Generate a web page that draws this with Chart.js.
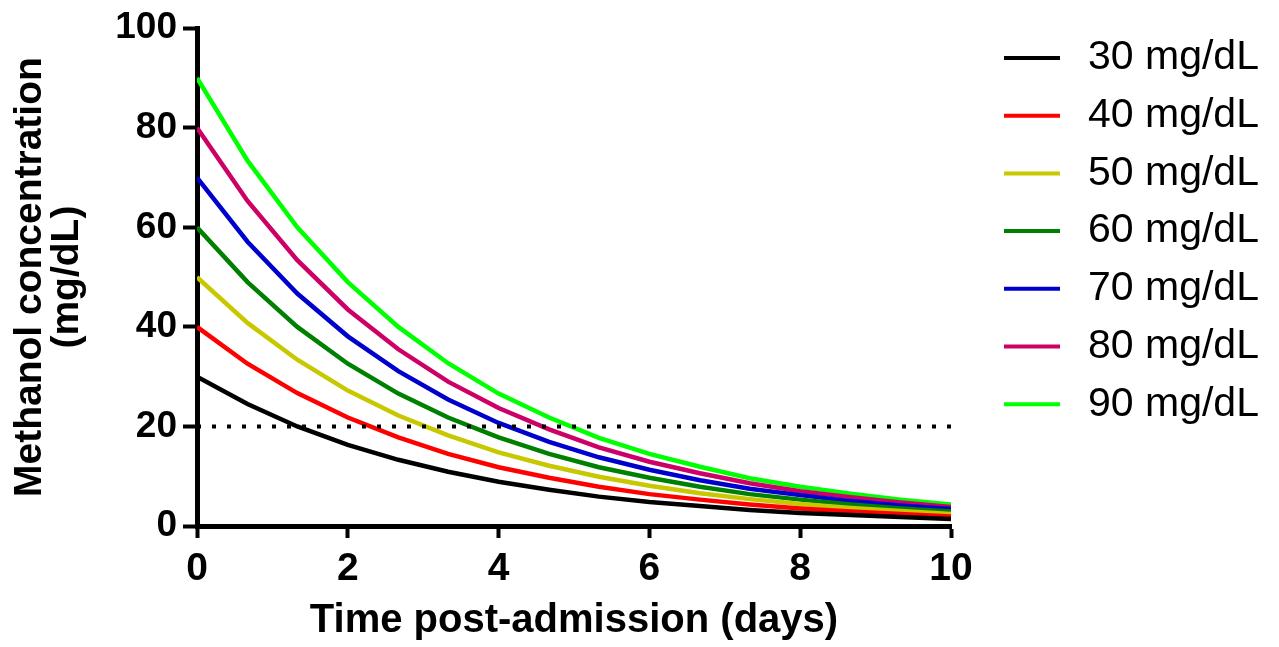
<!DOCTYPE html>
<html>
<head>
<meta charset="utf-8">
<script src="https://cdn.jsdelivr.net/npm/chart.js"></script>
<style>
    html, body { margin: 0; padding: 0; background: #fff; }
    canvas { display: block; }
</style>
</head>
<body>
<canvas id="decayChart" width="1279" height="647"></canvas>
<script>
// Time points (days post-admission)
const times = [0, 0.67, 1.33, 2, 2.67, 3.33, 4, 4.67, 5.33, 6, 6.67, 7.33, 8, 8.67, 9.33, 10];

// Methanol concentration (mg/dL)
const conc30 = [30, 24.5, 20.0, 16.3, 13.3, 10.9, 8.9, 7.3, 5.9, 4.8, 4.0, 3.2, 2.6, 2.2, 1.8, 1.4];
const conc40 = [40, 32.6, 26.7, 21.8, 17.8, 14.5, 11.8, 9.7, 7.9, 6.4, 5.3, 4.3, 3.5, 2.9, 2.4, 1.9];
const conc50 = [50, 40.8, 33.4, 27.2, 22.2, 18.2, 14.8, 12.1, 9.9, 8.1, 6.6, 5.4, 4.4, 3.6, 3.0, 2.4];
const conc60 = [60, 49.0, 40.0, 32.6, 26.6, 21.8, 17.8, 14.5, 11.8, 9.7, 7.9, 6.4, 5.3, 4.3, 3.5, 2.9];
const conc70 = [70, 57.1, 46.7, 38.1, 31.1, 25.4, 20.7, 16.9, 13.8, 11.3, 9.2, 7.5, 6.2, 5.0, 4.1, 3.4];
const conc80 = [80, 65.3, 53.4, 43.5, 35.5, 29.0, 23.7, 19.4, 15.8, 12.9, 10.6, 8.6, 7.0, 5.8, 4.7, 3.8];
const conc90 = [90, 73.4, 60.0, 49.0, 40.0, 32.7, 26.6, 21.8, 17.7, 14.5, 11.9, 9.6, 7.9, 6.5, 5.3, 4.3];

const seriesLabels = ['30 mg/dL', '40 mg/dL', '50 mg/dL', '60 mg/dL', '70 mg/dL', '80 mg/dL', '90 mg/dL'];
const seriesValues = [conc30, conc40, conc50, conc60, conc70, conc80, conc90];
const seriesColors = ['#000000', '#ff0000', '#c8c800', '#008000', '#0000cc', '#cc0066', '#00ff00'];

// Threshold line
const thresholdX = [0, 10];
const thresholdY = [20, 20];

const FONT = 'Arial, "Liberation Sans", Helvetica, sans-serif';

const datasets = seriesValues.map((vals, i) => ({
    label: seriesLabels[i],
    data: vals.map((v, j) => ({ x: times[j], y: v })),
    borderColor: seriesColors[i],
    backgroundColor: seriesColors[i],
    borderWidth: 4.5,
    pointRadius: 0,
    tension: 0,
    fill: false
}));

datasets.push({
    label: 'threshold',
    data: thresholdX.map((x, j) => ({ x: x, y: thresholdY[j] })),
    borderColor: '#000',
    borderWidth: 4,
    borderDash: [4, 11],
    pointRadius: 0,
    order: -1
});

// Legend drawn by hand so it sits exactly where the original has it
const sideLegend = {
    id: 'sideLegend',
    afterDraw(chart) {
        const ctx = chart.ctx;
        ctx.save();
        ctx.font = '41px ' + FONT;
        ctx.textBaseline = 'middle';
        ctx.textAlign = 'left';
        seriesLabels.forEach((label, i) => {
            const y = 58 + i * 57.7;
            ctx.strokeStyle = seriesColors[i];
            ctx.lineWidth = 4;
            ctx.beginPath();
            ctx.moveTo(1004, y);
            ctx.lineTo(1060, y);
            ctx.stroke();
            ctx.fillStyle = '#000';
            ctx.fillText(label, 1088, y);
        });
        ctx.restore();
    }
};

new Chart(document.getElementById('decayChart').getContext('2d'), {
    type: 'line',
    data: { datasets: datasets },
    plugins: [sideLegend],
    options: {
        responsive: false,
        animation: false,
        layout: { padding: { top: 24, right: 328, left: 0, bottom: 0 } },
        plugins: {
            legend: { display: false },
            tooltip: { enabled: false }
        },
        scales: {
            x: {
                type: 'linear',
                min: 0,
                max: 10,
                afterFit: scale => { scale.height = 121; },
                border: { display: true, color: '#000', width: 5 },
                grid: { drawOnChartArea: false, drawTicks: true, tickLength: 12, tickWidth: 4, tickColor: '#000' },
                ticks: { stepSize: 2, color: '#000', padding: 8, font: { family: FONT, size: 39, weight: 'bold' } },
                title: {
                    display: true,
                    text: 'Time post-admission (days)',
                    color: '#000',
                    padding: { top: 0, bottom: 2 },
                    font: { family: FONT, size: 40, weight: 'bold' }
                }
            },
            y: {
                min: 0,
                max: 100,
                afterFit: scale => { scale.width = 197; },
                border: { display: true, color: '#000', width: 5 },
                grid: { drawOnChartArea: false, drawTicks: true, tickLength: 14, tickWidth: 4, tickColor: '#000' },
                ticks: { stepSize: 20, color: '#000', padding: 6, font: { family: FONT, size: 37, weight: 'bold' } },
                title: {
                    display: true,
                    text: ['Methanol concentration', '(mg/dL)'],
                    color: '#000',
                    padding: { top: 11, bottom: 0 },
                    font: { family: FONT, size: 39, weight: 'bold', lineHeight: 0.97 }
                }
            }
        }
    }
});
</script>
</body>
</html>
